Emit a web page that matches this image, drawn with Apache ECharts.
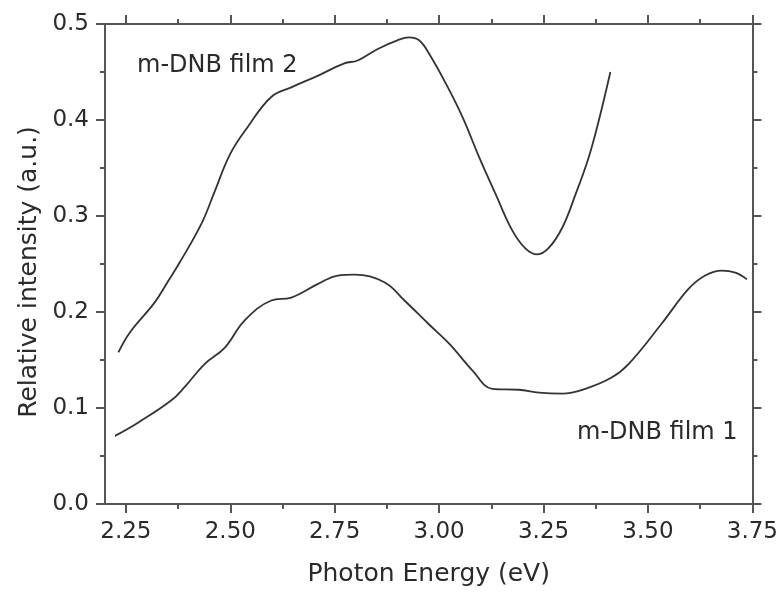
<!DOCTYPE html>
<html>
<head>
<meta charset="utf-8">
<script src="https://cdn.jsdelivr.net/npm/echarts@6/dist/echarts.min.js"></script>
<style>
  html, body { margin: 0; padding: 0; background: #fff; }
  #chart { width: 781px; height: 600px; }
</style>
</head>
<body>
<div id="chart"></div>
<script>
// Photon energy (eV) and relative intensity for each film
const film2Energy = [2.232, 2.260, 2.319, 2.351, 2.378, 2.431, 2.463, 2.499, 2.542, 2.598, 2.646, 2.709, 2.773, 2.805, 2.853, 2.900, 2.928, 2.952, 2.976, 3.016, 3.056, 3.096, 3.135, 3.175, 3.207, 3.235, 3.263, 3.295, 3.327, 3.358, 3.382, 3.410];
const film2Intensity = [0.158, 0.179, 0.210, 0.232, 0.251, 0.292, 0.326, 0.364, 0.393, 0.424, 0.434, 0.446, 0.459, 0.462, 0.474, 0.483, 0.486, 0.483, 0.469, 0.438, 0.403, 0.361, 0.323, 0.285, 0.266, 0.260, 0.267, 0.288, 0.323, 0.361, 0.399, 0.450];

const film1Energy = [2.224, 2.280, 2.359, 2.391, 2.439, 2.487, 2.534, 2.598, 2.646, 2.709, 2.757, 2.797, 2.869, 2.917, 2.976, 3.024, 3.080, 3.127, 3.191, 3.239, 3.295, 3.350, 3.414, 3.454, 3.533, 3.597, 3.637, 3.677, 3.709, 3.737];
const film1Intensity = [0.071, 0.085, 0.108, 0.122, 0.146, 0.163, 0.191, 0.212, 0.215, 0.229, 0.238, 0.239, 0.231, 0.212, 0.187, 0.167, 0.139, 0.120, 0.119, 0.116, 0.115, 0.120, 0.132, 0.146, 0.188, 0.224, 0.238, 0.243, 0.241, 0.234];

// Axis ticks
const xMajorTicks = [2.25, 2.50, 2.75, 3.00, 3.25, 3.50, 3.75];
const xMinorTicks = [2.375, 2.625, 2.875, 3.125, 3.375, 3.625];
const xRange = [2.2, 3.75];
const yRange = [0, 0.5];

const FONT = '"DejaVu Sans", Verdana, sans-serif';
const AXIS_COLOR = '#555';
const INK = '#2a2a2a';

const zip = (xs, ys) => xs.map((x, i) => [x, ys[i]]);

function xAxisDef(position, ticks, length, withLabels) {
  return {
    type: 'value',
    position: position,
    min: xRange[0],
    max: xRange[1],
    axisLine: { show: true, onZero: false, lineStyle: { color: AXIS_COLOR, width: 2 } },
    axisTick: { show: true, inside: false, length: length, customValues: ticks,
                lineStyle: { color: AXIS_COLOR, width: 2 } },
    axisLabel: withLabels ? {
      show: true, customValues: ticks, margin: 17,
      fontFamily: FONT, fontSize: 23, color: INK,
      formatter: v => v.toFixed(2)
    } : { show: false },
    splitLine: { show: false }
  };
}

const chart = echarts.init(document.getElementById('chart'), null, { renderer: 'canvas' });

chart.setOption({
  animation: false,
  backgroundColor: '#fff',
  grid: { left: 105, top: 24, width: 649, height: 480, containLabel: false },
  xAxis: [
    Object.assign(xAxisDef('bottom', xMajorTicks, 9, true), {
      name: 'Photon Energy (eV)', nameLocation: 'middle', nameGap: 58,
      nameTextStyle: { fontFamily: FONT, fontSize: 25, color: INK }
    }),
    xAxisDef('bottom', xMinorTicks, 5, false),
    xAxisDef('top', xMajorTicks, 9, false),
    xAxisDef('top', xMinorTicks, 5, false)
  ],
  yAxis: [
    {
      type: 'value', position: 'left', min: yRange[0], max: yRange[1], interval: 0.1,
      name: 'Relative intensity (a.u.)', nameLocation: 'middle', nameGap: 63,
      nameTextStyle: { fontFamily: FONT, fontSize: 25, color: INK, padding: [0, 16, 0, 0] },
      axisLine: { show: true, onZero: false, lineStyle: { color: AXIS_COLOR, width: 2 } },
      axisTick: { show: true, inside: false, length: 9, lineStyle: { color: AXIS_COLOR, width: 2 } },
      minorTick: { show: true, splitNumber: 2, length: 5, lineStyle: { color: AXIS_COLOR, width: 2 } },
      axisLabel: { margin: 16, fontFamily: FONT, fontSize: 23, color: INK, formatter: v => v.toFixed(1) },
      splitLine: { show: false }
    },
    {
      type: 'value', position: 'right', min: yRange[0], max: yRange[1], interval: 0.1,
      axisLine: { show: true, onZero: false, lineStyle: { color: AXIS_COLOR, width: 2 } },
      axisTick: { show: true, inside: false, length: 9, lineStyle: { color: AXIS_COLOR, width: 2 } },
      minorTick: { show: true, splitNumber: 2, length: 5, lineStyle: { color: AXIS_COLOR, width: 2 } },
      axisLabel: { show: false },
      splitLine: { show: false }
    }
  ],
  series: [
    {
      name: 'm-DNB film 2', type: 'line', xAxisIndex: 0, yAxisIndex: 0,
      data: zip(film2Energy, film2Intensity),
      smooth: 0.4, showSymbol: false,
      lineStyle: { color: '#333', width: 1.8 }
    },
    {
      name: 'm-DNB film 1', type: 'line', xAxisIndex: 0, yAxisIndex: 0,
      data: zip(film1Energy, film1Intensity),
      smooth: 0.4, showSymbol: false,
      lineStyle: { color: '#333', width: 1.8 }
    }
  ],
  graphic: [
    { type: 'text', left: 137, top: 54,
      style: { text: 'm-DNB film 2', font: '24px ' + FONT, fill: INK } },
    { type: 'text', left: 577, top: 421,
      style: { text: 'm-DNB film 1', font: '24px ' + FONT, fill: INK } }
  ]
});
</script>
</body>
</html>
